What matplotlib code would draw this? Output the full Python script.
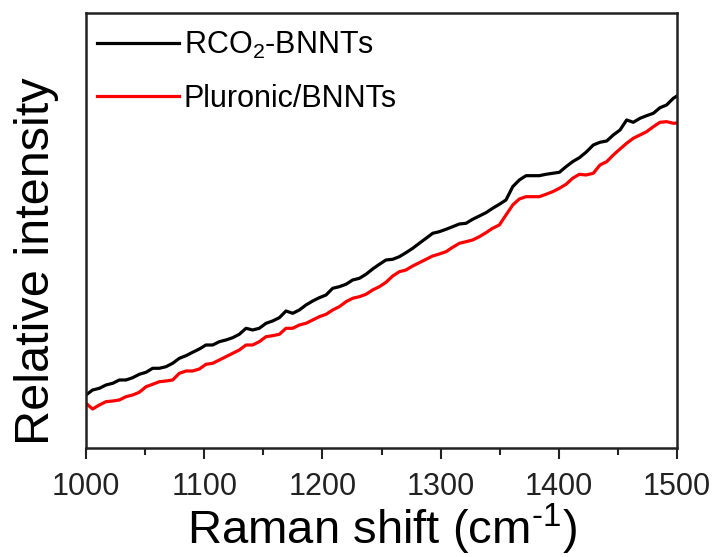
import numpy as np
import matplotlib.pyplot as plt

plt.rcParams['font.family'] = ['Liberation Sans', 'DejaVu Sans']
plt.rcParams['mathtext.fontset'] = 'custom'
plt.rcParams['mathtext.rm'] = 'Liberation Sans'

# Raman shift (cm-1)
shift = [1000.0, 1005.6, 1011.3, 1016.9, 1022.6, 1028.2, 1033.8, 1039.5, 1045.1, 1050.8,
         1056.4, 1062.0, 1067.7, 1073.3, 1079.0, 1084.6,
         1090.2, 1095.9, 1101.5, 1107.2, 1112.8, 1118.4, 1124.1, 1129.7, 1135.4, 1141.0,
         1146.6, 1152.3, 1157.9, 1163.6, 1169.2,
         1174.9, 1180.5, 1186.1, 1191.8, 1197.4, 1203.1, 1208.7, 1214.3, 1220.0, 1225.6,
         1231.3, 1236.9, 1242.5, 1248.2, 1253.8,
         1259.5, 1265.1, 1270.7, 1276.4, 1282.0, 1287.7, 1293.3, 1298.9, 1304.6, 1310.2,
         1315.9, 1321.5, 1327.1, 1332.8, 1338.4,
         1344.0, 1349.7, 1355.3, 1358.2, 1361.0, 1366.6, 1372.3, 1377.9, 1383.5, 1389.2,
         1394.8, 1400.5, 1406.1, 1411.7, 1417.4, 1423.0,
         1429.2, 1434.8, 1440.5, 1446.1, 1451.8, 1457.4, 1463.0, 1468.7, 1474.3, 1480.0,
         1485.6, 1491.2, 1496.9, 1500.0]

# relative intensity (arbitrary units)
rco2 = [53, 58, 59.7, 63, 64.7, 68, 68, 70.3, 73.7, 75.7,
        79.7, 79.7, 81.3, 84.7, 89.7, 92.3,
        95.7, 99, 103, 103, 106.3, 108, 110.3, 113.7, 119.7, 118,
        119.7, 124.7, 127, 130.3, 137,
        134.7, 138, 143, 147, 150.3, 153, 159.7, 161.3, 163.7, 168,
        169.7, 173.7, 179, 183.7, 188,
        188.7, 191.3, 195.3, 199.7, 204.7, 209.7, 214.7, 216.3, 218.7, 221.3,
        224, 224.7, 228.7, 232, 235.3,
        239.7, 243.7, 248, 254.7, 261.3, 268, 272.3, 272.3, 272.3, 273.7,
        274.7, 275.7, 281.3, 286.3, 290.3, 295.7,
        303, 305.7, 307, 313, 318, 328, 325.7, 329.7, 332.3, 334.7,
        340.3, 343, 349.7, 352]

pluronic = [44.7, 39, 43, 46.3, 47, 48, 51.3, 53, 55.7, 61.3,
            63.7, 66.3, 67, 68, 74.7, 77,
            77, 79, 83.7, 84.7, 88, 91.3, 94.7, 98, 103, 103,
            106.3, 111.3, 112.3, 113.7, 119.7,
            119.7, 123, 124.7, 128, 131.3, 133.7, 138, 141.3, 146.3, 149.7,
            151.3, 153.7, 158, 161.3, 165.7,
            172, 176.3, 178, 182, 185.3, 188.7, 192, 194, 196.3, 200.7,
            204.7, 206.3, 208, 211.3, 215.3,
            219.7, 223, 233, 238, 243, 249, 251.3, 251.3, 251.3, 253.7,
            256.3, 259.7, 263.7, 269.7, 273.7, 273,
            274.7, 283, 286.3, 293, 299, 304.7, 309.7, 313, 316.3, 321.3,
            325.7, 326.3, 324.7, 325]

fig = plt.figure(figsize=(7.19, 5.57), dpi=100)
ax = fig.add_axes([0.1196, 0.1957, 0.822, 0.781])

ax.plot(shift, rco2, color='black', lw=2.3, label='RCO$_2$-BNNTs')
ax.plot(shift, pluronic, color='#ff0000', lw=2.3, label='Pluronic/BNNTs')

ax.set_xlim(1000, 1500)
ax.set_ylim(0, 435)
ax.set_xticks([1000, 1100, 1200, 1300, 1400, 1500])
ax.set_xticks(np.arange(1050, 1500, 100), minor=True)
ax.set_yticks([])
ax.tick_params(axis='x', which='major', direction='out', length=8, width=1.5,
               labelsize=22, colors='#222222', pad=9)
ax.tick_params(axis='x', which='minor', direction='out', length=5, width=1.5, colors='#222222')
for s in ax.spines.values():
    s.set_linewidth(1.8)
    s.set_color('#222222')

ax.set_xlabel(r'Raman shift (cm$^{\text{-}1}$)', fontsize=34, labelpad=0)
ax.set_ylabel('Relative intensity', fontsize=35)
ax.yaxis.set_label_coords(-0.045, 0.43)

ax.legend(loc='upper left', frameon=False, fontsize=22, handlelength=2.7,
          handletextpad=0.15, labelspacing=0.75, borderaxespad=0.15,
          bbox_to_anchor=(-0.01, 1.0))

fig.savefig('out.png', dpi=100)
